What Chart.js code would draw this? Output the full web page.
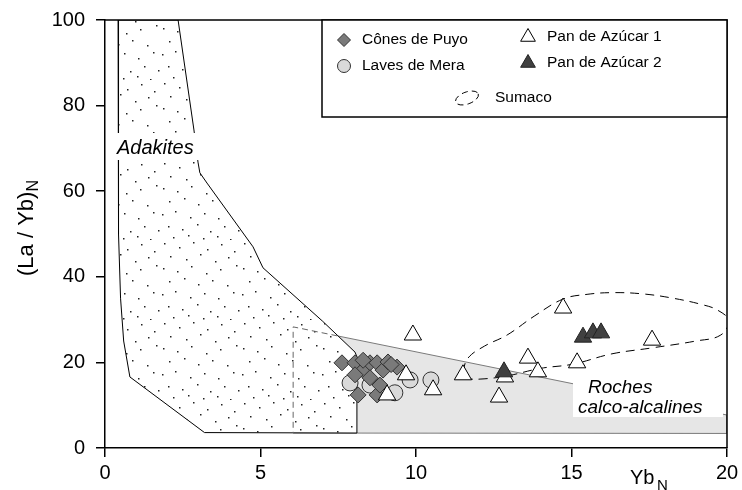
<!DOCTYPE html>
<html>
<head>
<meta charset="utf-8">
<script src="https://cdn.jsdelivr.net/npm/chart.js@4"></script>
<style>
  body { margin: 0; background: #fff; }
  canvas { display: block; }
</style>
</head>
<body>
<canvas id="chart" width="742" height="490"></canvas>
<script>
// tick values
const xTickValues = [0, 5, 10, 15, 20];
const yTickValues = [0, 20, 40, 60, 80, 100];

// Cônes de Puyo
const puyoX = [7.62, 8.04, 8.30, 8.52, 8.75, 8.94, 9.10, 9.39, 8.14, 8.75, 8.84, 8.52, 8.04, 9.20, 8.30];
const puyoY = [19.9, 19.9, 18.2, 19.9, 19.9, 18.2, 20.1, 18.9, 12.4, 12.4, 14.7, 16.4, 17.1, 19.5, 20.5];

// Laves de Mera
const meraX = [7.88, 8.52, 9.32, 9.81, 10.48];
const meraY = [15.2, 14.7, 12.9, 15.9, 15.9];

// Pan de Azúcar 1
const pan1X = [9.90, 9.68, 10.55, 9.07, 11.51, 12.67, 12.86, 13.60, 13.92, 14.73, 15.18, 17.59];
const pan1Y = [26.4, 17.1, 13.6, 12.4, 17.1, 11.9, 16.6, 21.0, 17.8, 32.7, 19.9, 25.2];

// Pan de Azúcar 2
const pan2X = [12.83, 15.37, 15.69, 15.95];
const pan2Y = [17.8, 25.9, 26.9, 26.9];

// Sumaco field outline
const sumacoX = [11.5, 11.67, 12.2, 12.93, 13.8, 14.73, 15.5, 16.33, 17.3, 18.26, 19.2, 19.7, 20.05, 19.8, 19.0, 17.6, 16.3, 15.05, 14.0, 12.9, 12.06, 11.7, 11.5];
const sumacoY = [17.8, 21.0, 23.8, 26.4, 30.8, 34.8, 35.9, 36.3, 36.0, 35.0, 33.5, 32.2, 29.8, 26.4, 25.0, 23.4, 22.0, 19.6, 18.6, 16.8, 16.1, 16.3, 17.8];

// Adakites field outline
const adakX = [0.42, 0.42, 0.45, 0.50, 0.60, 0.80, 3.20, 8.10, 8.10, 8.04, 7.00, 5.08, 4.76, 3.28, 3.05, 2.99, 2.86, 2.35, 0.42];
const adakY = [100, 66, 50, 35, 25, 16.6, 3.6, 3.5, 21.3, 22.4, 29.6, 42.1, 47.0, 61.9, 64.3, 66.8, 74.3, 100, 100];

// Roches calco-alcalines field outline
const calcX = [6.05, 20.0, 20.0, 6.05, 6.05];
const calcY = [28.3, 7.7, 3.4, 3.5, 28.3];
const calcDashX = [7.47, 6.05, 6.05];
const calcDashY = [26.2, 28.3, 3.5];

function pts(xs, ys) {
    return xs.map((x, i) => ({x: x, y: ys[i]}));
}

// stipple texture for the adakite field
function makeDots() {
    const c = document.createElement('canvas');
    c.width = 80;
    c.height = 80;
    const g = c.getContext('2d');
    g.fillStyle = '#fff';
    g.fillRect(0, 0, 80, 80);
    g.fillStyle = '#222';
    const dots = [
        [4, 3], [19, 7], [33, 2], [47, 9], [61, 4], [74, 11],
        [10, 16], [26, 19], [40, 14], [55, 21], [68, 17],
        [3, 28], [17, 31], [31, 26], [46, 33], [60, 29], [76, 25],
        [9, 41], [24, 38], [38, 44], [52, 40], [67, 45],
        [2, 54], [15, 51], [30, 57], [44, 53], [58, 58], [73, 52],
        [8, 66], [22, 69], [37, 64], [50, 71], [64, 66], [78, 70],
        [13, 77], [28, 75], [43, 78], [57, 76], [70, 79]
    ];
    dots.forEach(d => g.fillRect(d[0], d[1], 1.5, 1.5));
    return g.createPattern(c, 'repeat');
}

Chart.defaults.font.family = 'Arial, "Liberation Sans", sans-serif';
Chart.defaults.color = '#000';

const frameAndLabels = {
    id: 'frameAndLabels',
    afterDatasetsDraw(chart) {
        const ctx = chart.ctx;
        ctx.save();
        // Adakites label
        ctx.fillStyle = '#fff';
        ctx.fillRect(112, 133, 90, 27);
        ctx.fillStyle = '#000';
        ctx.font = 'italic 20px Arial';
        ctx.textBaseline = 'alphabetic';
        ctx.fillText('Adakites', 117, 154);
        // Roches calco-alcalines label
        ctx.fillStyle = '#fff';
        ctx.fillRect(573, 375, 150, 42);
        ctx.fillStyle = '#000';
        ctx.font = 'italic 19px Arial';
        ctx.fillText('Roches', 588, 393);
        ctx.fillText('calco-alcalines', 578, 413);
        ctx.restore();
    },
    afterDraw(chart) {
        const ctx = chart.ctx;
        const a = chart.chartArea;
        ctx.save();
        ctx.strokeStyle = '#000';
        ctx.lineWidth = 1.5;
        ctx.beginPath();
        ctx.moveTo(a.left, a.top);
        ctx.lineTo(a.right, a.top);
        ctx.lineTo(a.right, a.bottom);
        ctx.stroke();

        // legend box
        ctx.lineWidth = 1.5;
        ctx.fillStyle = '#fff';
        ctx.fillRect(322, a.top, a.right - 322, 97);
        ctx.strokeRect(322, a.top, a.right - 322, 97);
        const ds = chart.data.datasets;
        const items = [
            {i: 4, x: 344, y: 40, r: 6.5, text: 'Cônes de Puyo', tx: 362},
            {i: 5, x: 344, y: 66, r: 6.5, text: 'Laves de Mera', tx: 362},
            {i: 6, x: 528, y: 37, r: 8.5, text: 'Pan de Azúcar 1', tx: 547},
            {i: 7, x: 528, y: 63, r: 8.5, text: 'Pan de Azúcar 2', tx: 547}
        ];
        ctx.font = '15.5px Arial';
        ctx.textBaseline = 'middle';
        items.forEach(it => {
            const d = ds[it.i];
            ctx.fillStyle = d.backgroundColor;
            ctx.strokeStyle = d.borderColor;
            ctx.lineWidth = 1;
            Chart.helpers.drawPoint(ctx, {pointStyle: d.pointStyle, radius: it.r, rotation: 0, borderWidth: 1}, it.x, it.y);
            ctx.fillStyle = '#000';
            ctx.fillText(it.text, it.tx, it.y);
        });
        // Sumaco legend symbol
        ctx.strokeStyle = '#000';
        ctx.lineWidth = 1;
        ctx.setLineDash([6, 4]);
        ctx.beginPath();
        ctx.ellipse(467, 98, 12, 6, -0.35, 0, Math.PI * 2);
        ctx.stroke();
        ctx.setLineDash([]);
        ctx.fillStyle = '#000';
        ctx.fillText('Sumaco', 495, 98);

        // axis titles
        ctx.font = '20px Arial';
        ctx.textBaseline = 'alphabetic';
        ctx.fillText('Yb', 630, 484);
        ctx.font = '15px Arial';
        ctx.fillText('N', 657, 490);

        ctx.translate(33, 228);
        ctx.rotate(-Math.PI / 2);
        ctx.font = '22px Arial';
        const main = '(La / Yb)';
        const w = ctx.measureText(main).width;
        ctx.font = '16px Arial';
        const wn = ctx.measureText('N').width;
        const start = -(w + wn) / 2;
        ctx.font = '22px Arial';
        ctx.fillText(main, start, 0);
        ctx.font = '16px Arial';
        ctx.fillText('N', start + w, 5);
        ctx.restore();
    }
};

const ctx = document.getElementById('chart').getContext('2d');
const chart = new Chart(ctx, {
    type: 'scatter',
    data: {
        datasets: [
            {
                type: 'line',
                label: 'Roches calco-alcalines',
                data: pts(calcX, calcY),
                backgroundColor: '#e6e6e6',
                borderColor: '#7a7a7a',
                borderWidth: 1,
                fill: 'shape',
                pointRadius: 0,
                tension: 0,
                order: 20
            },
            {
                type: 'line',
                label: 'Adakites',
                data: pts(adakX, adakY),
                backgroundColor: makeDots(),
                borderColor: '#000',
                borderWidth: 1,
                fill: 'shape',
                pointRadius: 0,
                tension: 0,
                order: 19
            },
            {
                type: 'line',
                label: 'calco dashed',
                data: pts(calcDashX, calcDashY),
                borderColor: '#666',
                borderWidth: 1,
                borderDash: [6, 4],
                fill: false,
                pointRadius: 0,
                tension: 0,
                order: 18
            },
            {
                type: 'line',
                label: 'Sumaco',
                data: pts(sumacoX, sumacoY),
                borderColor: '#000',
                borderWidth: 1,
                borderDash: [9, 6],
                fill: false,
                pointRadius: 0,
                tension: 0.4,
                order: 17
            },
            {
                label: 'Cônes de Puyo',
                data: pts(puyoX, puyoY),
                pointStyle: 'rectRot',
                pointRadius: 8,
                backgroundColor: '#7a7a7a',
                borderColor: '#333',
                borderWidth: 1,
                order: 15
            },
            {
                label: 'Laves de Mera',
                data: pts(meraX, meraY),
                pointStyle: 'circle',
                pointRadius: 8,
                backgroundColor: '#d9d9d9',
                borderColor: '#333',
                borderWidth: 1,
                order: 16
            },
            {
                label: 'Pan de Azúcar 1',
                data: pts(pan1X, pan1Y),
                pointStyle: 'triangle',
                pointRadius: 10,
                backgroundColor: '#fff',
                borderColor: '#000',
                borderWidth: 1,
                order: 14
            },
            {
                label: 'Pan de Azúcar 2',
                data: pts(pan2X, pan2Y),
                pointStyle: 'triangle',
                pointRadius: 10,
                backgroundColor: '#404040',
                borderColor: '#222',
                borderWidth: 1,
                order: 13
            }
        ]
    },
    options: {
        responsive: false,
        animation: false,
        layout: {
            padding: {left: 0, top: 20, right: 15, bottom: 0}
        },
        plugins: {
            legend: {display: false},
            tooltip: {enabled: false}
        },
        scales: {
            x: {
                type: 'linear',
                min: 0,
                max: 20,
                afterBuildTicks: s => { s.ticks = xTickValues.map(v => ({value: v})); },
                afterFit: s => { s.height = 42; s.paddingLeft = 0; s.paddingRight = 0; },
                ticks: {font: {size: 20}, color: '#000', padding: 4, maxRotation: 0},
                grid: {drawOnChartArea: false, drawTicks: true, tickLength: 9, color: '#000', lineWidth: 1.5},
                border: {color: '#000', width: 1.5}
            },
            y: {
                type: 'linear',
                min: 0,
                max: 100,
                afterBuildTicks: s => { s.ticks = yTickValues.map(v => ({value: v})); },
                afterFit: s => { s.width = 105; s.paddingTop = 0; s.paddingBottom = 0; },
                ticks: {font: {size: 20}, color: '#000', padding: 11},
                grid: {drawOnChartArea: false, drawTicks: true, tickLength: 9, color: '#000', lineWidth: 1.5},
                border: {color: '#000', width: 1.5}
            }
        }
    },
    plugins: [frameAndLabels]
});
</script>
</body>
</html>
